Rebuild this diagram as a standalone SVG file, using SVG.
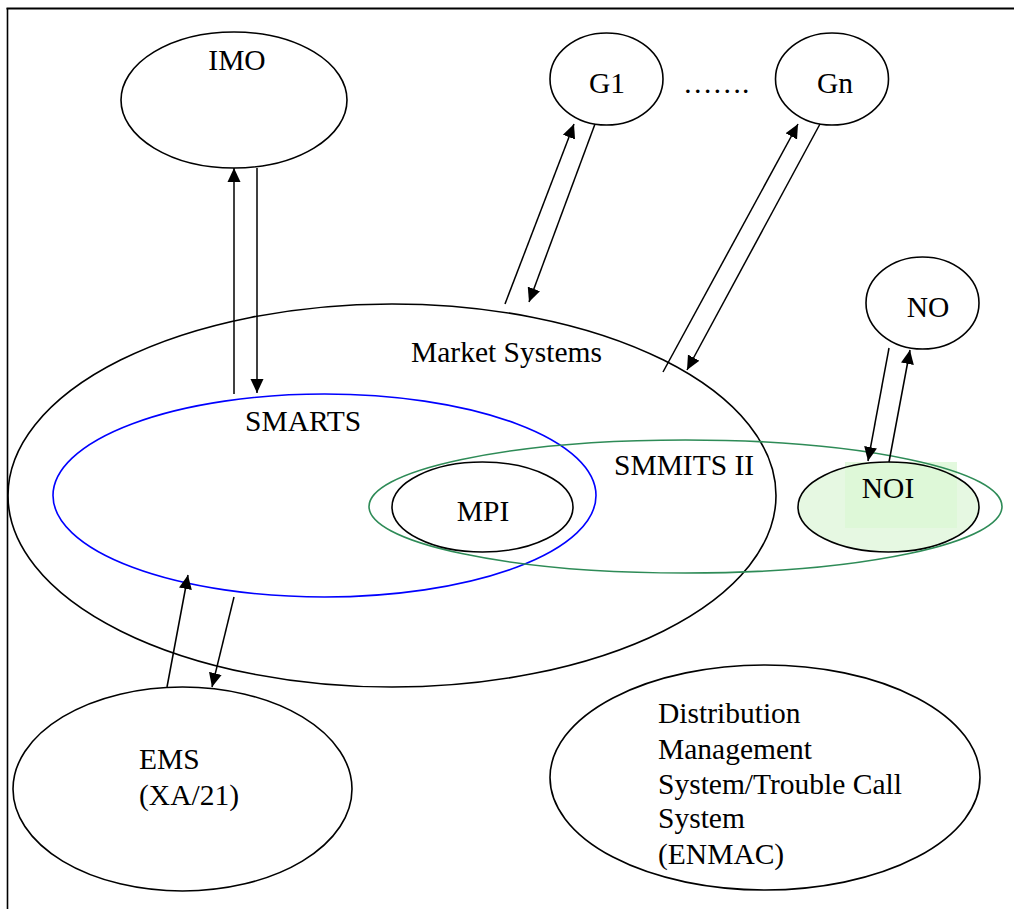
<svg xmlns="http://www.w3.org/2000/svg" width="1014" height="909" viewBox="0 0 1014 909">
<style>
  .n { fill: none; stroke: #000; stroke-width: 1.6; }
  .t { font-family: "Liberation Serif", "Times New Roman", serif; font-size: 29.5px; fill: #000; }
  .c { text-anchor: middle; }
  .a { stroke: #000; stroke-width: 1.5; fill: none; marker-end: url(#ah); }
  .l { stroke: #000; stroke-width: 1.5; fill: none; }
</style>
<defs>
  <marker id="ah" markerUnits="userSpaceOnUse" markerWidth="16" markerHeight="14" viewBox="0 -7 16 14" refX="14" refY="0" orient="auto">
    <path d="M0,-6.5 L14,0 L0,6.5 z" fill="#000"/>
  </marker>
</defs>
<rect width="1014" height="909" fill="#fff"/>
<g id="frame">
  <line x1="6.5" y1="8.5" x2="1014" y2="8.5" stroke="#000" stroke-width="2"/>
  <line x1="7.5" y1="8" x2="7.5" y2="909" stroke="#000" stroke-width="1.6"/>
</g>
<g id="market-systems">
  <ellipse class="n" cx="392" cy="495.5" rx="384" ry="191.5"/>
  <text class="t" x="411" y="362">Market Systems</text>
</g>
<g id="smarts">
  <ellipse cx="324.5" cy="495.5" rx="271.5" ry="101.5" fill="none" stroke="#0000ff" stroke-width="1.6"/>
  <text class="t" x="245" y="431">SMARTS</text>
</g>
<g id="noi">
  <ellipse cx="888.5" cy="507" rx="90.5" ry="45" fill="#e6f8e2"/>
  <rect x="845" y="462" width="112" height="66" fill="#dcf8d6" opacity="0.8"/>
  <ellipse class="n" cx="888.5" cy="507" rx="90.5" ry="45"/>
  <text class="t c" x="888" y="498">NOI</text>
</g>
<g id="smmits-ii">
  <ellipse cx="685.5" cy="506.5" rx="316.5" ry="66.5" fill="none" stroke="#2e8b57" stroke-width="1.6"/>
  <text class="t" x="614" y="475">SMMITS II</text>
</g>
<g id="mpi">
  <ellipse class="n" cx="482.5" cy="507" rx="90.5" ry="45"/>
  <text class="t c" x="483" y="521">MPI</text>
</g>
<g id="imo">
  <ellipse class="n" cx="234" cy="100" rx="113" ry="68"/>
  <text class="t c" x="237" y="70">IMO</text>
</g>
<g id="g1">
  <ellipse class="n" cx="606.5" cy="79" rx="56.5" ry="46"/>
  <text class="t c" x="607" y="93">G1</text>
</g>
<g id="ellipsis">
  <text class="t" x="683" y="93">…….</text>
</g>
<g id="gn">
  <ellipse class="n" cx="832" cy="79" rx="56.5" ry="46"/>
  <text class="t c" x="835" y="93">Gn</text>
</g>
<g id="no">
  <ellipse class="n" cx="922.5" cy="303" rx="56.5" ry="46"/>
  <text class="t c" x="928" y="317">NO</text>
</g>
<g id="ems">
  <ellipse class="n" cx="182.5" cy="789" rx="169.5" ry="102"/>
  <text class="t" x="139" y="769">EMS</text>
  <text class="t" x="139" y="805">(XA/21)</text>
</g>
<g id="dms">
  <ellipse class="n" cx="765" cy="777.5" rx="215" ry="112.5"/>
  <text class="t" x="658" y="723">Distribution</text>
  <text class="t" x="658" y="759">Management</text>
  <text class="t" x="658" y="794">System/Trouble Call</text>
  <text class="t" x="658" y="828">System</text>
  <text class="t" x="658" y="864">(ENMAC)</text>
</g>
<g id="connectors">
  <line class="a" x1="234" y1="394" x2="234" y2="168"/>
  <line class="a" x1="257" y1="168" x2="257" y2="393"/>
  <line class="a" x1="505" y1="304" x2="574" y2="124"/>
  <line class="a" x1="595" y1="124" x2="529" y2="302"/>
  <line class="a" x1="663" y1="372" x2="798" y2="124"/>
  <line class="a" x1="820" y1="124" x2="687" y2="370"/>
  <line class="a" x1="889" y1="348" x2="868" y2="461"/>
  <line class="a" x1="889" y1="462" x2="910" y2="350"/>
  <line class="a" x1="167" y1="687" x2="188" y2="575"/>
  <line class="a" x1="234" y1="597" x2="212" y2="687"/>
</g>
</svg>
